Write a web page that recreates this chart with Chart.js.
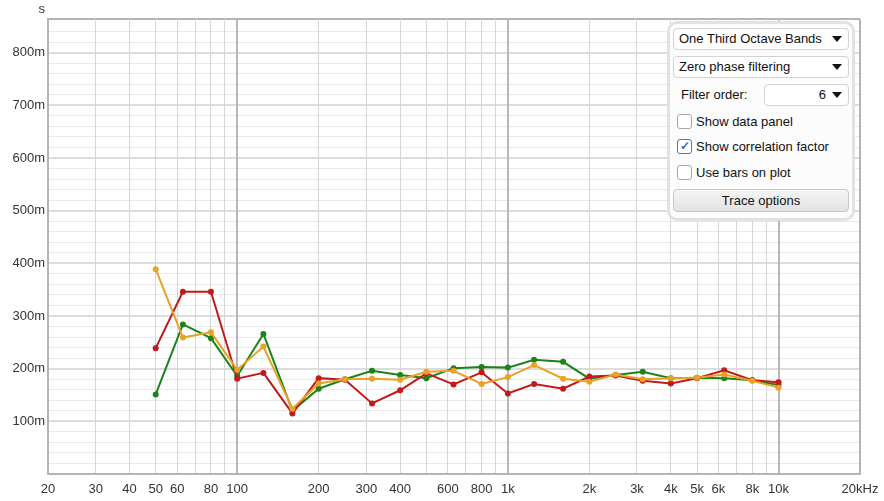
<!DOCTYPE html>
<html>
<head>
<meta charset="utf-8">
<script src="https://cdn.jsdelivr.net/npm/chart.js@4"></script>
<style>
  body { margin: 0; background: #fff; font-family: "Liberation Sans", Arial, sans-serif; }
  #wrap { position: relative; width: 884px; height: 501px; }
  #panel { position: absolute; left: 667px; top: 21px; width: 182px; height: 194px;
    border: 3px solid #e2e2e2; border-radius: 10px; background: #fcfcfc; }
  .dd { position: absolute; height: 20px; border: 1px solid #d4d4d4; border-radius: 4px;
    background: #fff; font-size: 13px; color: #111; line-height: 20px; }
  .dd .t { position: absolute; left: 5px; }
  .dd .a { position: absolute; right: 6px; top: 7px; width: 0; height: 0;
    border-left: 5px solid transparent; border-right: 5px solid transparent; border-top: 6px solid #111; }
  .lbl { position: absolute; font-size: 13px; color: #111; line-height: 16px; }
  .cb { position: absolute; width: 13px; height: 13px; border: 1px solid #a8a8a8; border-radius: 3px; background: #fff; }
  .cb.on { border-color: #3a7bd5; color: #2a6ad0; font-size: 12px; line-height: 13px; text-align: center; font-weight: bold; }
  #btn { position: absolute; left: 673px; top: 189px; width: 174px; height: 21px; border: 1px solid #c6c6c6;
    border-radius: 4px; background: linear-gradient(#f6f6f6, #e2e2e2); font-size: 13px; color: #111;
    text-align: center; line-height: 21px; }
</style>
</head>
<body>
<div id="wrap">
  <canvas id="myChart" width="884" height="501"></canvas>
  <div id="panel"></div>
  <div class="dd" style="left:673px;top:28px;width:174px;"><span class="t">One Third Octave Bands</span><span class="a"></span></div>
  <div class="dd" style="left:673px;top:56px;width:174px;"><span class="t">Zero phase filtering</span><span class="a"></span></div>
  <div class="lbl" style="left:681px;top:87px;">Filter order:</div>
  <div class="dd" style="left:764px;top:84px;width:83px;"><span class="t" style="left:auto;right:22px;">6</span><span class="a"></span></div>
  <div class="cb" style="left:677px;top:114px;"></div>
  <div class="lbl" style="left:696px;top:114px;">Show data panel</div>
  <div class="cb on" style="left:677px;top:139px;">&#10003;</div>
  <div class="lbl" style="left:696px;top:139px;">Show correlation factor</div>
  <div class="cb" style="left:677px;top:165px;"></div>
  <div class="lbl" style="left:696px;top:165px;">Use bars on plot</div>
  <div id="btn">Trace options</div>
</div>
<script>
// one third octave band centres
var freqs = [50, 63, 80, 100, 125, 160, 200, 250, 315, 400, 500, 630, 800, 1000,
             1250, 1600, 2000, 2500, 3150, 4000, 5000, 6300, 8000, 10000];

// decay times in seconds
var orangeT = [0.389, 0.259, 0.269, 0.198, 0.242, 0.124, 0.172, 0.180, 0.181, 0.179, 0.194, 0.196,
               0.171, 0.184, 0.207, 0.181, 0.175, 0.189, 0.180, 0.182, 0.183, 0.189, 0.177, 0.164];
var redT    = [0.239, 0.346, 0.346, 0.181, 0.192, 0.115, 0.182, 0.179, 0.134, 0.159, 0.191, 0.170,
               0.193, 0.153, 0.171, 0.162, 0.185, 0.187, 0.177, 0.172, 0.182, 0.197, 0.178, 0.174];
var greenT  = [0.151, 0.284, 0.258, 0.186, 0.266, 0.120, 0.162, 0.180, 0.196, 0.188, 0.182, 0.201,
               0.203, 0.202, 0.217, 0.213, 0.181, 0.188, 0.194, 0.182, 0.183, 0.182, 0.178, 0.169];

var xTicks = [20, 30, 40, 50, 60, 70, 80, 90, 100, 200, 300, 400, 500, 600, 700, 800, 900,
              1000, 2000, 3000, 4000, 5000, 6000, 7000, 8000, 9000, 10000, 20000];
var xLabels = {20: '20', 30: '30', 40: '40', 50: '50', 60: '60', 80: '80', 100: '100',
               200: '200', 300: '300', 400: '400', 600: '600', 800: '800', 1000: '1k',
               2000: '2k', 3000: '3k', 4000: '4k', 5000: '5k', 6000: '6k', 8000: '8k',
               10000: '10k', 20000: '20kHz'};

function pts(arr) {
  return freqs.map(function (f, i) { return {x: f, y: arr[i]}; });
}

var edge = '#b4b4b4';

var unitLabel = {
  id: 'unitLabel',
  afterDraw: function (chart) {
    var c = chart.ctx;
    c.save();
    c.font = '13px "Liberation Sans", Arial, sans-serif';
    c.fillStyle = '#333';
    c.textAlign = 'right';
    c.textBaseline = 'middle';
    c.fillText('s', 45, 9);
    c.restore();
  }
};

function line(label, color, arr) {
  return {
    label: label,
    data: pts(arr),
    borderColor: color,
    backgroundColor: color,
    borderWidth: 2,
    pointRadius: 3,
    pointBorderWidth: 0,
    tension: 0
  };
}

function isDecade(v) { return v === 100 || v === 1000 || v === 10000; }

var ctx = document.getElementById('myChart').getContext('2d');
var myChart = new Chart(ctx, {
  type: 'line',
  data: {
    datasets: [
      line('Orange', '#e9a126', orangeT),
      line('Red', '#c21a1a', redT),
      line('Green', '#1c821c', greenT)
    ]
  },
  options: {
    responsive: false,
    animation: false,
    layout: { padding: { top: 19, right: 24, left: 0, bottom: 0 } },
    plugins: { legend: { display: false }, tooltip: { enabled: false } },
    scales: {
      x: {
        type: 'logarithmic',
        min: 20,
        max: 20000,
        afterBuildTicks: function (scale) {
          scale.ticks = xTicks.map(function (v) { return {value: v}; });
        },
        afterFit: function (scale) {
          scale.height = 27;
          scale.paddingLeft = 0;
          scale.paddingRight = 0;
        },
        border: { display: true, color: edge, width: 2 },
        grid: {
          z: -1,
          drawTicks: false,
          lineWidth: function (c) {
            var v = c.tick && c.tick.value;
            return (isDecade(v) || v === 20000) ? 2 : 1;
          },
          color: function (c) {
            var v = c.tick && c.tick.value;
            if (v === 20 || v === 20000) return edge;
            if (isDecade(v)) return '#b8b8b8';
            return '#d6d6d6';
          }
        },
        ticks: {
          autoSkip: false,
          maxRotation: 0,
          padding: 8,
          color: '#333',
          font: { family: '"Liberation Sans", Arial, sans-serif', size: 13 },
          callback: function (v) { return xLabels[v] || ''; }
        }
      },
      y: {
        min: 0,
        max: 0.864,
        afterFit: function (scale) { scale.width = 48; },
        border: { display: true, color: edge, width: 2 },
        grid: {
          z: -2,
          drawTicks: false,
          lineWidth: function (c) {
            var v = Math.round(c.tick.value * 1000);
            return (v % 100 === 0 || v >= 860) ? 2 : 1;
          },
          color: function (c) {
            var v = Math.round(c.tick.value * 1000);
            if (v >= 860) return edge;
            return v % 100 === 0 ? '#dcdcdc' : '#e9e9e9';
          }
        },
        ticks: {
          stepSize: 0.02,
          padding: 3,
          autoSkip: false,
          color: '#333',
          font: { family: '"Liberation Sans", Arial, sans-serif', size: 13 },
          callback: function (v) {
            var m = Math.round(v * 1000);
            return (m > 0 && m < 860 && m % 100 === 0) ? m + 'm' : '';
          }
        }
      }
    }
  },
  plugins: [unitLabel]
});
</script>
</body>
</html>
